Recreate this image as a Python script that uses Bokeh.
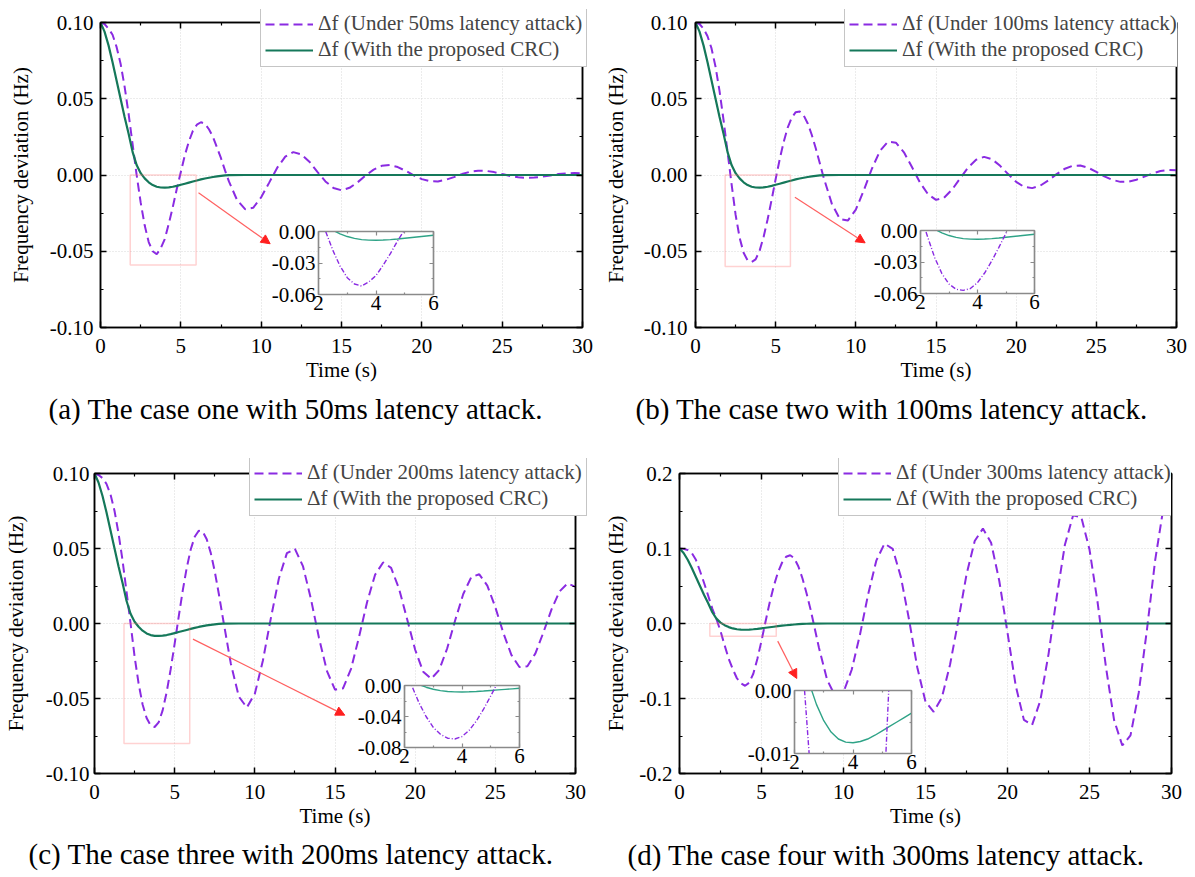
from bokeh.plotting import figure
from bokeh.layouts import row, column
from bokeh.models import (Range1d, LinearAxis, FixedTicker, Legend, LegendItem,
                          Title, Arrow, NormalHead, BoxAnnotation)
from bokeh.embed import file_html
from bokeh.resources import INLINE

# ---------------- data ----------------
time_s = [0.0, 0.25, 0.5, 0.75, 1.0, 1.25, 1.5, 1.75, 2.0, 2.25, 2.5, 2.75, 3.0, 3.25, 3.5, 3.75,
          4.0, 4.25, 4.5, 4.75, 5.0, 5.25, 5.5, 5.75, 6.0, 6.25, 6.5, 6.75, 7.0, 7.25, 7.5, 7.75, 8.0,
          8.5, 9.0, 9.5, 10.0, 10.5, 11.0, 11.5, 12.0, 12.5, 13.0, 13.5, 14.0, 14.5, 15.0, 15.5,
          16.0, 16.5, 17.0, 17.5, 18.0, 18.5, 19.0, 19.5, 20.0, 20.5, 21.0, 21.5, 22.0, 22.5,
          23.0, 23.5, 24.0, 24.5, 25.0, 25.5, 26.0, 26.5, 27.0, 27.5, 28.0, 28.5, 29.0, 29.5, 30.0]

attack_50ms = [0.100, 0.099, 0.096, 0.092, 0.084, 0.073, 0.058, 0.040, 0.020, 0.000, -0.018, -0.033,
               -0.044, -0.050, -0.052, -0.048, -0.042, -0.032, -0.021, -0.009, 0.002, 0.013, 0.022,
               0.029, 0.033, 0.0346, 0.0336, 0.030, 0.025, 0.018, 0.011, 0.003, -0.0044,
               -0.0164, -0.0224, -0.0215, -0.0146, -0.0050, 0.0048, 0.0120, 0.0150, 0.0135, 0.0087,
               0.0020, -0.0042, -0.0085, -0.0100, -0.0084, -0.0048, -0.0004, 0.0035, 0.0060, 0.0065,
               0.0052, 0.0027, -0.0003, -0.0027, -0.0041, -0.0042, -0.0031, -0.0014, 0.0006, 0.0021,
               0.0028, 0.0027, 0.0019, 0.0006, -0.0006, -0.0015, -0.0019, -0.0017, -0.0011, -0.0003,
               0.0006, 0.0011, 0.0013, 0.0011]

attack_100ms = [0.100, 0.099, 0.096, 0.091, 0.083, 0.071, 0.055, 0.036, 0.015, -0.006, -0.026, -0.041,
                -0.051, -0.056, -0.057, -0.0553, -0.0496, -0.0405, -0.0290, -0.0161, -0.0026, 0.0102,
                0.0217, 0.0311, 0.0376, 0.0412, 0.0416, 0.0390, 0.0338, 0.0264, 0.0175, 0.0078, -0.0019,
                -0.0188, -0.0288, -0.0299, -0.0227, -0.0100, 0.0041, 0.0157, 0.0218, 0.0212, 0.0149,
                0.0052, -0.0049, -0.0126, -0.0163, -0.0149, -0.0096, -0.0023, 0.0049, 0.0100, 0.0119,
                0.0103, 0.0060, 0.0006, -0.0045, -0.0078, -0.0086, -0.0070, -0.0036, 0.0004, 0.0039,
                0.0060, 0.0062, 0.0047, 0.0021, -0.0009, -0.0032, -0.0045, -0.0044, -0.0031, -0.0011,
                0.0010, 0.0026, 0.0033, 0.0031]

attack_200ms = [0.100, 0.099, 0.097, 0.093, 0.086, 0.075, 0.060, 0.042, 0.021, 0.000, -0.022, -0.040,
                -0.054, -0.063, -0.068, -0.069, -0.0659, -0.0579, -0.0458, -0.0306, -0.0134, 0.0044,
                0.0217, 0.0370, 0.0493, 0.0578, 0.0618, 0.0612, 0.0562, 0.0471, 0.0347, 0.0200, 0.0041,
                -0.0266, -0.0487, -0.0560, -0.0469, -0.0248, 0.0036, 0.0300, 0.0469, 0.0497, 0.0383,
                0.0163, -0.0096, -0.0318, -0.0441, -0.0433, -0.0302, -0.0089, 0.0142, 0.0325, 0.0407,
                0.0371, 0.0230, 0.0028, -0.0175, -0.0321, -0.0369, -0.0310, -0.0165, 0.0023, 0.0197,
                0.0309, 0.0328, 0.0253, 0.0108, -0.0063, -0.0209, -0.0290, -0.0285, -0.0199, -0.0059,
                0.0093, 0.0213, 0.0267, 0.0244]

attack_300ms = [0.100, 0.0995, 0.098, 0.094, 0.085, 0.070, 0.054, 0.037, 0.020, 0.006, -0.010, -0.029,
                -0.047, -0.061, -0.073, -0.080, -0.083, -0.079, -0.067, -0.047, -0.023, 0.003, 0.028,
                0.050, 0.068, 0.081, 0.089, 0.091, 0.087, 0.076, 0.060, 0.040, 0.018,
                -0.032, -0.075, -0.097, -0.0915, -0.0617, -0.0153, 0.0386, 0.0838, 0.1065, 0.0995,
                0.0618, 0.0049, -0.0587, -0.1044, -0.1178, -0.0987, -0.0545, 0.0039, 0.0652, 0.1099,
                0.1266, 0.1077, 0.0567, -0.0122, -0.0828, -0.1285, -0.1353, -0.1029, -0.0411, 0.0353,
                0.1050, 0.1442, 0.1417, 0.0986, 0.0273, -0.0577, -0.1289, -0.1626, -0.1492, -0.0925,
                -0.0088, 0.0838, 0.1532, 0.178]

time_crc = [0.0, 0.25, 0.5, 0.75, 1.0, 1.25, 1.5, 1.75, 2.0, 2.25, 2.5, 2.75, 3.0, 3.25, 3.5, 3.75,
            4.0, 4.25, 4.5, 4.75, 5.0, 5.25, 5.5, 5.75, 6.0, 6.25, 6.5, 6.75, 7.0, 7.25, 7.5, 7.75, 8.0,
            9.0, 10.0, 12.0, 15.0, 20.0, 25.0, 30.0]
with_crc = [0.100, 0.094, 0.085, 0.074, 0.062, 0.050, 0.038, 0.027, 0.015, 0.0065, 0.0012, -0.0022,
            -0.0048, -0.0066, -0.0077, -0.0082, -0.0083, -0.0081, -0.0077, -0.0071, -0.0064, -0.0057,
            -0.0050, -0.0043, -0.0036, -0.0029, -0.0023, -0.0018, -0.0013, -0.0009, -0.0006, -0.0003,
            -0.0001, 0.0, 0.0, 0.0, 0.0, 0.0, 0.0, 0.0]

x_ticks = [0, 5, 10, 15, 20, 25, 30]
x_tick_labels = ["0", "5", "10", "15", "20", "25", "30"]
x_minor = [2.5, 7.5, 12.5, 17.5, 22.5, 27.5]

y_ticks_01 = [-0.1, -0.05, 0.0, 0.05, 0.1]
y_labels_01 = ["-0.10", "-0.05", "0.00", "0.05", "0.10"]
y_minor_01 = [-0.075, -0.025, 0.025, 0.075]
y_ticks_02 = [-0.2, -0.1, 0.0, 0.1, 0.2]
y_labels_02 = ["-0.2", "-0.1", "0.0", "0.1", "0.2"]
y_minor_02 = [-0.15, -0.05, 0.05, 0.15]

inset_x_ticks = [2, 4, 6]
inset_x_labels = ["2", "4", "6"]
inset_x_minor = [3, 5]
inset_y_ticks_006 = [-0.06, -0.03, 0.0]
inset_y_labels_006 = ["-0.06", "-0.03", "0.00"]
inset_y_minor_006 = [-0.045, -0.015]
inset_y_ticks_008 = [-0.08, -0.04, 0.0]
inset_y_labels_008 = ["-0.08", "-0.04", "0.00"]
inset_y_minor_008 = [-0.06, -0.02]
inset_y_ticks_001 = [-0.01, 0.0]
inset_y_labels_001 = ["-0.01", "0.00"]
inset_y_minor_001 = [-0.005]

attack_labels = ["\u0394f (Under 50ms latency attack)", "\u0394f (Under 100ms latency attack)",
                 "\u0394f (Under 200ms latency attack)", "\u0394f (Under 300ms latency attack)"]
crc_label = "\u0394f (With the proposed CRC)"
captions = ["(a) The case one with 50ms latency attack.",
            "(b) The case two with 100ms latency attack.",
            "(c) The case three with 200ms latency attack.",
            "(d) The case four with 300ms latency attack."]

# ---------------- styling ----------------
FONT = "Liberation Serif"
PURPLE = "#8a2be2"
GREEN = "#15785a"
INSET_GREEN = "#2fa387"
RED_BOX = "#ff6b6b"
RED_ARROW = "#ff6060"
ATTACK_STYLE = dict(line_color=PURPLE, line_width=2, line_dash="9 5")
CRC_STYLE = dict(line_color=GREEN, line_width=2.2)
LEG_H = 58
LEG_SHIFT = 52   # measured horizontal offset of the legend inside its overlay


def style_axis(ax, color="black", major_in=6, minor_in=3, lw=1.5):
    ax.axis_line_color = color
    ax.axis_line_width = lw
    ax.major_tick_line_color = color
    ax.major_tick_line_width = lw
    ax.minor_tick_line_color = color
    ax.minor_tick_line_width = 1.2
    ax.major_tick_in = major_in
    ax.major_tick_out = 0
    ax.minor_tick_in = minor_in
    ax.minor_tick_out = 0
    ax.major_label_text_font = FONT
    ax.major_label_text_font_size = "21px"
    ax.major_label_text_color = "black"
    ax.axis_label_text_font = FONT
    ax.axis_label_text_font_size = "21px"
    ax.axis_label_text_font_style = "normal"
    ax.axis_label_text_color = "black"


def mute_axis(ax):
    ax.major_label_text_color = None
    ax.major_label_standoff = 0


def make_panel(cfg, attack, yt, yl, ym, ylim, caption):
    p = figure(width=cfg["w"], height=cfg["h"], x_range=Range1d(0, 30), y_range=Range1d(*ylim),
               output_backend="svg", toolbar_location=None, title=None,
               min_border_left=cfg["bl"], min_border_right=cfg["br"],
               min_border_top=cfg["bt"], min_border_bottom=cfg["bb"])
    p.background_fill_color = "white"
    p.border_fill_color = "white"
    p.outline_line_color = "black"
    p.outline_line_width = 1.5

    xt = FixedTicker(ticks=x_ticks, minor_ticks=x_minor)
    ytk = FixedTicker(ticks=yt, minor_ticks=ym)
    p.xaxis.ticker = xt
    p.yaxis.ticker = ytk
    p.xaxis.major_label_overrides = dict(zip(x_ticks, x_tick_labels))
    p.yaxis.major_label_overrides = dict(zip(yt, yl))
    p.xaxis.axis_label = "Time (s)"
    p.yaxis.axis_label = "Frequency deviation (Hz)"
    for ax in p.xaxis + p.yaxis:
        style_axis(ax)
    p.xaxis.major_label_standoff = 11
    p.xaxis.axis_label_standoff = 2
    p.yaxis.major_label_standoff = cfg["ystand"]
    p.yaxis.axis_label_standoff = cfg["ylabstand"]

    ra = LinearAxis(ticker=ytk)
    style_axis(ra)
    mute_axis(ra)
    p.add_layout(ra, "right")
    ta = LinearAxis(ticker=xt)
    style_axis(ta)
    mute_axis(ta)
    p.add_layout(ta, "above")

    p.xgrid.ticker = xt
    p.ygrid.ticker = ytk
    for g in (p.xgrid, p.ygrid):
        g.grid_line_color = "#d8d8d8"
        g.grid_line_dash = "1 2"
        g.grid_line_width = 1

    p.line(time_s, attack, **ATTACK_STYLE)
    p.line(time_crc, with_crc, **CRC_STYLE)

    zb = cfg["zoombox"]
    p.add_layout(BoxAnnotation(left=zb[0], right=zb[1], bottom=zb[2], top=zb[3],
                               fill_alpha=0, line_color=RED_BOX, line_width=1.5))
    ar = cfg["arrow"]
    p.add_layout(Arrow(x_start=ar[0], y_start=ar[1], x_end=ar[2], y_end=ar[3],
                       line_color=RED_ARROW, line_width=1.2,
                       end=NormalHead(size=9, fill_color="#ff2020", line_color="#ff2020")))

    cap = Title(text=caption, align="left", offset=cfg["capoff"], standoff=cfg["capstand"],
                text_font=FONT, text_font_size="29px", text_font_style="normal",
                text_color="black")
    p.add_layout(cap, "below")
    return p


def make_legend_box(pos, attack, attack_label):
    # legend drawn in its own transparent overlay so it may overlap the frame's top edge;
    # the series are plotted there out of view, only their legend entries show
    lx, ly, lw = pos
    lf = figure(width=lw + LEG_SHIFT, height=LEG_H, x_range=Range1d(100, 101), y_range=Range1d(100, 101),
                output_backend="svg", toolbar_location=None, title=None,
                min_border_left=0, min_border_right=0, min_border_top=0, min_border_bottom=0,
                styles={"position": "absolute", "left": f"{lx - LEG_SHIFT}px", "top": f"{ly}px",
                        "z-index": "20"})
    lf.xaxis.visible = False
    lf.yaxis.visible = False
    lf.xgrid.visible = False
    lf.ygrid.visible = False
    lf.outline_line_color = None
    lf.background_fill_alpha = 0
    lf.border_fill_alpha = 0
    r_att = lf.line(time_s, attack, **ATTACK_STYLE)
    r_crc = lf.line(time_crc, with_crc, **CRC_STYLE)
    leg = Legend(items=[LegendItem(label=attack_label, renderers=[r_att]),
                        LegendItem(label=crc_label, renderers=[r_crc])],
                 location=(0, 0))
    leg.label_text_font = FONT
    leg.label_text_font_size = "21px"
    leg.padding = 4
    leg.spacing = 1
    leg.margin = 0
    leg.glyph_width = 48
    leg.glyph_height = 24
    leg.label_height = 24
    leg.label_standoff = 5
    leg.border_line_color = "#8c8c8c"
    leg.border_line_width = 1
    leg.background_fill_color = "white"
    leg.background_fill_alpha = 1
    lf.add_layout(leg)
    return lf


def make_inset(cfg, attack, yt, yl, ym, ylim):
    bl, br, bt, bb = 52, 10, 12, 28
    fx, fy, fw, fh = cfg
    q = figure(width=bl + fw + br, height=bt + fh + bb, x_range=Range1d(2, 6), y_range=Range1d(*ylim),
               output_backend="svg", toolbar_location=None, title=None,
               min_border_left=bl, min_border_right=br, min_border_top=bt, min_border_bottom=bb,
               styles={"position": "absolute", "left": f"{fx - bl}px",
                       "top": f"{fy - bt}px", "z-index": "10"})
    q.background_fill_color = "white"
    q.border_fill_alpha = 0
    q.outline_line_color = "#8a8a8a"
    q.outline_line_width = 1.5
    q.xgrid.visible = False
    q.ygrid.visible = False
    xt = FixedTicker(ticks=inset_x_ticks, minor_ticks=inset_x_minor)
    ytk = FixedTicker(ticks=yt, minor_ticks=ym)
    q.xaxis.ticker = xt
    q.yaxis.ticker = ytk
    q.xaxis.major_label_overrides = dict(zip(inset_x_ticks, inset_x_labels))
    q.yaxis.major_label_overrides = dict(zip(yt, yl))
    for ax in q.xaxis + q.yaxis:
        style_axis(ax, color="#8a8a8a", major_in=4, minor_in=2, lw=1.2)
        ax.major_label_text_color = "black"
    q.xaxis.major_label_standoff = 1
    q.yaxis.major_label_standoff = 3
    ra = LinearAxis(ticker=ytk)
    style_axis(ra, color="#8a8a8a", major_in=4, minor_in=2, lw=1.2)
    mute_axis(ra)
    q.add_layout(ra, "right")
    ta = LinearAxis(ticker=xt)
    style_axis(ta, color="#8a8a8a", major_in=4, minor_in=2, lw=1.2)
    mute_axis(ta)
    q.add_layout(ta, "above")
    q.line(time_crc, with_crc, line_color=INSET_GREEN, line_width=1.4)
    q.line(time_s, attack, line_color=PURPLE, line_width=1.4, line_dash="5 2 1 2")
    return q


panel_cfgs = [
    dict(w=600, h=440, bl=100, br=18, bt=22, bb=113, ystand=7, ylabstand=14,
         capoff=-52, capstand=13, zoombox=(1.85, 5.95, -0.059, 0.0), arrow=(6.1, -0.0117, 10.56, -0.0451)),
    dict(w=595, h=440, bl=95, br=19, bt=22, bb=113, ystand=8, ylabstand=13,
         capoff=-60, capstand=13, zoombox=(1.85, 5.92, -0.060, 0.0), arrow=(6.2, -0.0146, 10.58, -0.0445)),
    dict(w=600, h=437, bl=94, br=25, bt=31, bb=101, ystand=5, ylabstand=15,
         capoff=-66, capstand=11, zoombox=(1.84, 5.94, -0.080, 0.0), arrow=(6.14, -0.0104, 15.61, -0.0611)),
    dict(w=595, h=437, bl=79, br=24, bt=33, bb=102, ystand=7, ylabstand=8,
         capoff=-52, capstand=13, zoombox=(1.85, 5.9, -0.017, 0.0), arrow=(5.99, -0.0235, 7.15, -0.0733)),
]
legend_boxes = [(260, 9, 340), (844, 9, 343), (249, 458, 350), (838, 458, 343)]
inset_cfgs = [(318, 231, 115, 63), (920, 230, 114, 63), (404, 685, 115, 62), (794, 690, 117, 63)]

attacks = [attack_50ms, attack_100ms, attack_200ms, attack_300ms]
main_axes = [(y_ticks_01, y_labels_01, y_minor_01, (-0.1, 0.1))] * 3 + \
            [(y_ticks_02, y_labels_02, y_minor_02, (-0.2, 0.2))]
inset_axes = [(inset_y_ticks_006, inset_y_labels_006, inset_y_minor_006, (-0.06, 0.0)),
              (inset_y_ticks_006, inset_y_labels_006, inset_y_minor_006, (-0.06, 0.0)),
              (inset_y_ticks_008, inset_y_labels_008, inset_y_minor_008, (-0.08, 0.0)),
              (inset_y_ticks_001, inset_y_labels_001, inset_y_minor_001, (-0.01, 0.0))]

panels = []
overlays = []
for i in range(4):
    yt, yl, ym, ylim = main_axes[i]
    panels.append(make_panel(panel_cfgs[i], attacks[i], yt, yl, ym, ylim, captions[i]))
    iyt, iyl, iym, iylim = inset_axes[i]
    overlays.append(make_inset(inset_cfgs[i], attacks[i], iyt, iyl, iym, iylim))
    overlays.append(make_legend_box(legend_boxes[i], attacks[i], attack_labels[i]))

layout = column(row(panels[0], panels[1]), row(panels[2], panels[3]), *overlays)

open("out.html", "w").write(file_html(layout, INLINE, "Frequency deviation"))
